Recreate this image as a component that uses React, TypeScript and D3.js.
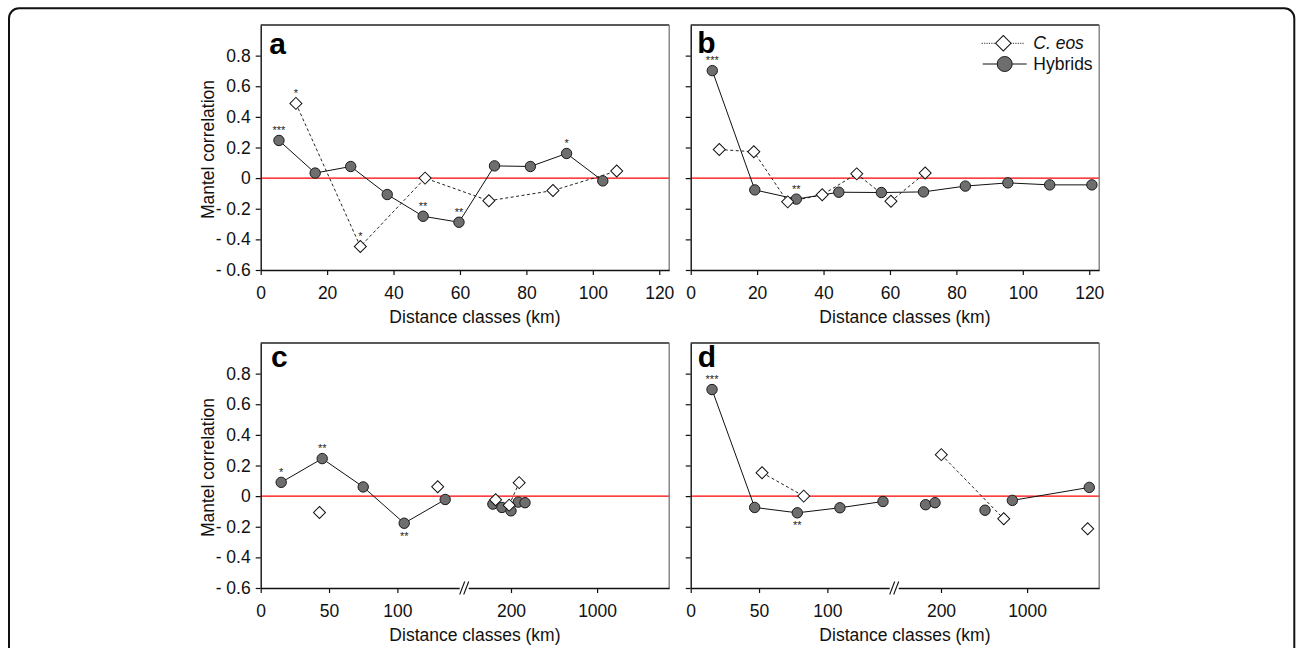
import React, { useEffect, useRef } from "react";
import * as d3 from "d3";

const W = 1296;
const H = 648;
const PW = 408.5;
const PH = 245;
const FONT = "'Liberation Sans', Arial, Helvetica, sans-serif";

// y ticks shared by all panels
const yTicks = [-0.6, -0.4, -0.2, 0, 0.2, 0.4, 0.6, 0.8];
const linTicks = [0, 20, 40, 60, 80, 100, 120];
const brokenTicks = [0, 50, 100, 200, 1000];

// panel a
const aHybridKm = [5.5, 16.4, 27.1, 38.1, 48.9, 59.7, 70.4, 81.2, 92.1, 103];
const aHybridR = [0.246, 0.033, 0.076, -0.107, -0.249, -0.288, 0.08, 0.076, 0.161, -0.018];
const aHybridSig = ["***", "", "", "", "**", "**", "", "", "*", ""];
const aEosKm = [10.6, 30, 49.5, 68.7, 88, 107.2];
const aEosR = [0.488, -0.447, 0, -0.148, -0.081, 0.046];
const aEosSig = ["*", "*", "", "", "", ""];

// panel b
const bHybridKm = [6.5, 19.3, 31.8, 44.6, 57.4, 70.1, 82.7, 95.5, 108.1, 120.8];
const bHybridR = [0.702, -0.077, -0.137, -0.092, -0.094, -0.09, -0.052, -0.031, -0.044, -0.044];
const bHybridSig = ["***", "", "**", "", "", "", "", "", "", ""];
const bEosKm = [8.6, 19, 29.2, 39.6, 50, 60.3, 70.6];
const bEosR = [0.187, 0.172, -0.155, -0.109, 0.028, -0.151, 0.033];

// panel c (broken axis)
const cHybridKm = [15, 45, 75, 105, 135, 180, 190, 200, 268, 330];
const cHybridR = [0.09, 0.245, 0.06, -0.177, -0.022, -0.052, -0.074, -0.096, -0.039, -0.043];
const cHybridSig = ["*", "**", "", "**", "", "", "", "", "", ""];
const cHybridBelow = [3];
const cHybridGroup = [0, 0, 0, 0, 0, 1, 2, 3, 4, 5];
const cEosKm = [43, 129.5, 183, 198, 276];
const cEosR = [-0.107, 0.061, -0.024, -0.059, 0.088];
const cEosGroup = [0, 1, 2, 3, 3];

// panel d (broken axis)
const dHybridKm = [15.6, 46.8, 78, 109.2, 140.7, 183, 193.4, 609, 863, 1582];
const dHybridR = [0.696, -0.074, -0.109, -0.076, -0.035, -0.056, -0.043, -0.092, -0.028, 0.057];
const dHybridSig = ["***", "", "**", "", "", "", "", "", "", ""];
const dHybridBelow = [2];
const dHybridGroup = [0, 0, 0, 0, 0, 1, 1, 2, 3, 3];
const dEosKm = [52.2, 82.7, 202.8, 783, 1567];
const dEosR = [0.153, 0, 0.271, -0.148, -0.213];
const dEosGroup = [0, 0, 1, 1, 2];

const yScale = d3.scaleLinear().domain([-0.6, 1.0]).range([PH, 0]);
const linX = d3.scaleLinear().domain([0, 123]).range([0, PW]);
// piecewise scale with a break after 150 km
const brokenX = d3
  .scaleLinear()
  .domain([0, 150, 200, 1000, 1675])
  .range([0, 205, 250.3, 336.4, PW]);

const fmtY = (v) => {
  if (Math.abs(v) < 1e-9) return "0";
  const s = Math.abs(v).toFixed(1);
  return v < 0 ? "- " + s : s;
};

const makeSeries = (km, r, sig = [], group = [], below = []) =>
  km.map((k, i) => ({
    km: k,
    r: r[i],
    sig: sig[i] || "",
    group: group.length ? group[i] : 0,
    below: below.includes(i),
  }));

const panels = [
  {
    id: "a", left: 260.7, top: 25, letterY: 29.3, letterX: 8.6, showY: true, broken: false, legend: false,
    hybrid: makeSeries(aHybridKm, aHybridR, aHybridSig),
    eos: makeSeries(aEosKm, aEosR, aEosSig),
  },
  {
    id: "b", left: 690.7, top: 25, letterY: 28.3, letterX: 6.6, showY: false, broken: false, legend: true,
    hybrid: makeSeries(bHybridKm, bHybridR, bHybridSig),
    eos: makeSeries(bEosKm, bEosR),
  },
  {
    id: "c", left: 260.7, top: 343, letterY: 23.5, letterX: 10.3, showY: true, broken: true, legend: false,
    hybrid: makeSeries(cHybridKm, cHybridR, cHybridSig, cHybridGroup, cHybridBelow),
    eos: makeSeries(cEosKm, cEosR, [], cEosGroup),
  },
  {
    id: "d", left: 690.7, top: 343, letterY: 23.5, letterX: 7, showY: false, broken: true, legend: false,
    hybrid: makeSeries(dHybridKm, dHybridR, dHybridSig, dHybridGroup, dHybridBelow),
    eos: makeSeries(dEosKm, dEosR, [], dEosGroup),
  },
];

const diamond = d3.symbol(d3.symbolSquare, 72);
const legendDiamond = d3.symbol(d3.symbolSquare, 120);

const Panel = ({ p }) => {
  const ref = useRef(null);

  useEffect(() => {
    const g = d3.select(ref.current);
    g.selectAll("*").remove();
    const x = p.broken ? brokenX : linX;

    // zero line
    g.append("line")
      .attr("x1", 0).attr("x2", PW)
      .attr("y1", yScale(0)).attr("y2", yScale(0))
      .attr("stroke", "#ff0000").attr("stroke-width", 1.3);

    // top / right border
    g.append("line").attr("x1", 0).attr("x2", PW).attr("y1", 0).attr("y2", 0)
      .attr("stroke", "#222").attr("stroke-width", 1.3);
    g.append("line").attr("x1", PW).attr("x2", PW).attr("y1", 0).attr("y2", PH)
      .attr("stroke", "#777").attr("stroke-width", 1.3);

    const yAxis = d3.axisLeft(yScale).tickValues(yTicks).tickSize(5).tickSizeOuter(0)
      .tickPadding(5).tickFormat(p.showY ? fmtY : () => "");
    const ya = g.append("g").call(yAxis);

    const xAxis = d3.axisBottom(x).tickValues(p.broken ? brokenTicks : linTicks)
      .tickSize(5).tickSizeOuter(0).tickPadding(11.5).tickFormat(d3.format("d"));
    const xa = g.append("g").attr("transform", `translate(0,${PH})`).call(xAxis);

    [ya, xa].forEach((a) => {
      a.select(".domain").attr("stroke", "#111").attr("stroke-width", 1.4);
      a.selectAll(".tick line").attr("stroke", "#111").attr("stroke-width", 1.2);
      a.selectAll("text").attr("font-family", FONT).attr("font-size", 17.5).attr("fill", "#111");
    });

    if (p.broken) {
      const bx = brokenX(150) - 1;
      g.append("rect").attr("x", bx - 5).attr("y", PH - 3).attr("width", 9).attr("height", 6)
        .attr("fill", "#fff");
      [-5, -1].forEach((o) => {
        g.append("line")
          .attr("x1", bx + o).attr("y1", PH + 6.5)
          .attr("x2", bx + o + 5).attr("y2", PH - 6.5)
          .attr("stroke", "#111").attr("stroke-width", 1.1);
      });
    }

    const line = d3.line().x((d) => x(d.km)).y((d) => yScale(d.r));
    const drawLines = (data, stroke, dash) => {
      d3.groups(data, (d) => d.group).forEach(([, pts]) => {
        if (pts.length < 2) return;
        g.append("path").attr("d", line(pts)).attr("fill", "none")
          .attr("stroke", stroke).attr("stroke-width", 1)
          .attr("stroke-dasharray", dash);
      });
    };
    drawLines(p.eos, "#222", "3,2.5");
    drawLines(p.hybrid, "#111", null);

    g.selectAll(".hyb").data(p.hybrid).join("circle").attr("class", "hyb")
      .attr("cx", (d) => x(d.km)).attr("cy", (d) => yScale(d.r)).attr("r", 5.2)
      .attr("fill", "#6e6e6e").attr("stroke", "#1a1a1a").attr("stroke-width", 1);

    g.selectAll(".eos").data(p.eos).join("path").attr("class", "eos")
      .attr("d", diamond())
      .attr("transform", (d) => `translate(${x(d.km)},${yScale(d.r)}) rotate(45)`)
      .attr("fill", "#fff").attr("stroke", "#111").attr("stroke-width", 1);

    const stars = [...p.hybrid, ...p.eos].filter((d) => d.sig);
    g.selectAll(".sig").data(stars).join("text").attr("class", "sig")
      .attr("x", (d) => x(d.km))
      .attr("y", (d) => yScale(d.r) + (d.below ? 16.5 : -6.5))
      .attr("text-anchor", "middle")
      .attr("font-family", FONT).attr("font-size", 11).attr("fill", "#222")
      .text((d) => d.sig);

    // panel letter
    g.append("text").attr("x", p.letterX).attr("y", p.letterY)
      .attr("font-family", FONT).attr("font-weight", "bold").attr("font-size", 30)
      .attr("fill", "#000").text(p.id);

    // axis titles
    g.append("text").attr("x", PW / 2 + 10).attr("y", PH + 53)
      .attr("text-anchor", "middle").attr("font-family", FONT).attr("font-size", 17.5)
      .attr("fill", "#111").text("Distance classes (km)");
    if (p.showY) {
      g.append("text").attr("transform", `translate(-46.5,${PH / 2 + 2}) rotate(-90)`)
        .attr("text-anchor", "middle").attr("font-family", FONT).attr("font-size", 17.5)
        .attr("fill", "#111").text("Mantel correlation");
    }

    if (p.legend) {
      const lg = g.append("g");
      lg.append("line").attr("x1", 291).attr("x2", 334).attr("y1", 18.3).attr("y2", 18.3)
        .attr("stroke", "#333").attr("stroke-width", 1).attr("stroke-dasharray", "1.2,1.2");
      lg.append("path").attr("d", legendDiamond())
        .attr("transform", "translate(312.6,18.3) rotate(45)")
        .attr("fill", "#fff").attr("stroke", "#111").attr("stroke-width", 1);
      lg.append("text").attr("x", 342.6).attr("y", 24.3).attr("font-family", FONT)
        .attr("font-size", 17.5).attr("font-style", "italic").attr("fill", "#111").text("C. eos");
      lg.append("line").attr("x1", 292).attr("x2", 336).attr("y1", 39).attr("y2", 39)
        .attr("stroke", "#111").attr("stroke-width", 1);
      lg.append("circle").attr("cx", 314).attr("cy", 39).attr("r", 7.5)
        .attr("fill", "#6e6e6e").attr("stroke", "#1a1a1a").attr("stroke-width", 1);
      lg.append("text").attr("x", 342.6).attr("y", 45.3).attr("font-family", FONT)
        .attr("font-size", 17.5).attr("fill", "#111").text("Hybrids");
    }
  }, [p]);

  return <g ref={ref} transform={`translate(${p.left},${p.top})`} />;
};

export default function App() {
  return (
    <svg width={W} height={H} style={{ position: "absolute", left: 0, top: 0, background: "#fff" }}>
      <rect x={9} y={8.3} width={1285.3} height={700} rx={10} fill="none" stroke="#111" strokeWidth={2} />
      {panels.map((p) => (
        <Panel key={p.id} p={p} />
      ))}
    </svg>
  );
}
